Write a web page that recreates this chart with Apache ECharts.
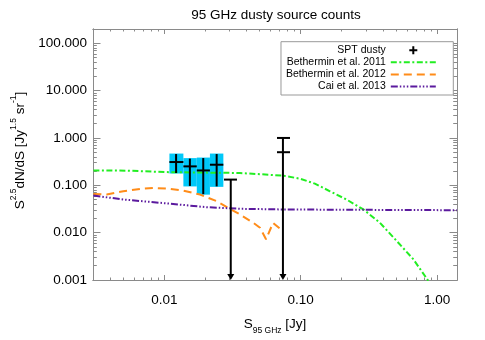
<!DOCTYPE html>
<html><head><meta charset="utf-8">
<script src="https://cdn.jsdelivr.net/npm/echarts@6/dist/echarts.min.js"></script>
<style>html,body{margin:0;padding:0;background:#fff}#c{width:485px;height:340px}</style>
</head><body><div id="c"></div>
<script>
const FONT = '"Liberation Sans", Arial, Helvetica, sans-serif';
const AX = '#8a8a8a';
const TICKC = '#8a8a8a';
const CYAN = '#00c8f8';
const GREEN = '#22ee22';
const ORANGE = '#ff8c19';
const PURPLE = '#5b1a9e';

// axis ranges and ticks
const xMin = 0.003, xMax = 1.4;
const yMin = 0.001, yMax = 200;
const xMajorTicks = [0.01, 0.1, 1];
const yMajorTicks = [0.001, 0.01, 0.1, 1, 10, 100];
const minorMult = [2, 3, 4, 5, 6, 7, 8, 9];
function minorTicks(majors, lo, hi) {
  const out = [];
  [majors[0] / 10].concat(majors).forEach(m => minorMult.forEach(k => {
    const v = +(m * k).toPrecision(3);
    if (v > lo && v < hi) out.push(v);
  }));
  return out;
}
const xMinorTicks = minorTicks(xMajorTicks, xMin, xMax);
const yMinorTicks = minorTicks(yMajorTicks, yMin, yMax);

// SPT dusty measured points
const sptS     = [0.0122, 0.0154, 0.0193, 0.0242];
const sptVal   = [0.310, 0.251, 0.206, 0.272];
const sptLo    = [0.182, 0.097, 0.065, 0.095];
const sptHi    = [0.457, 0.366, 0.376, 0.457];
const sptBinLo = [0.0109, 0.0138, 0.0173, 0.0216];
const sptBinHi = [0.0138, 0.0173, 0.0216, 0.0271];

// SPT dusty upper limits (arrow to bottom)
const limS     = [0.0307, 0.0741];
const limVal   = [null, 0.50];
const limHi    = [0.132, 1.00];
const limBinLo = [0.0274, 0.0670];
const limBinHi = [0.0341, 0.0835];

// Bethermin et al. 2011
const b11S = [0.00302, 0.0053, 0.0110, 0.0359, 0.0741, 0.0989, 0.127, 0.164, 0.217, 0.288, 0.381, 0.506, 0.669, 0.839, 0.90];
const b11V = [0.2065, 0.204, 0.189, 0.182, 0.160, 0.138, 0.1085, 0.0748, 0.050, 0.031, 0.0162, 0.00667, 0.00275, 0.00108, 0.00080];
// Bethermin et al. 2012
const b12S = [0.00302, 0.00378, 0.0050, 0.00664, 0.0083, 0.01041, 0.01378, 0.01827, 0.0242, 0.0294, 0.0359, 0.0449, 0.0503, 0.0557, 0.0627, 0.0705];
const b12V = [0.0659, 0.0638, 0.0748, 0.0840, 0.0881, 0.0853, 0.0774, 0.0638, 0.0462, 0.0335, 0.0242, 0.0162, 0.0127, 0.00723, 0.0161, 0.0121];
// Cai et al. 2013
const caiS = [0.00302, 0.0050, 0.00664, 0.0116, 0.0204, 0.0359, 0.0741, 0.23, 1.40];
const caiV = [0.0608, 0.0501, 0.0466, 0.0403, 0.0345, 0.0319, 0.0309, 0.0304, 0.0298];

const titleText = '95 GHz dusty source counts';
const names = ['SPT dusty', 'Bethermin et al. 2011', 'Bethermin et al. 2012', 'Cai et al. 2013'];

function xAx(position, ticks, len, withLabels) {
  const a = {
    type: 'log', min: xMin, max: xMax, position: position, gridIndex: 0,
    axisLine: { show: true, onZero: false, lineStyle: { color: AX, width: 1 } },
    axisTick: { show: true, inside: true, length: len, customValues: ticks, lineStyle: { color: TICKC, width: 1 } },
    axisLabel: { show: false },
    splitLine: { show: false }, minorTick: { show: false }, minorSplitLine: { show: false }
  };
  if (withLabels) {
    a.axisLabel = { show: true, customValues: xMajorTicks, formatter: v => v.toFixed(2), margin: 13,
      color: '#000', fontFamily: FONT, fontSize: 13.5 };
    a.name = '{m|S}{s|95 GHz}{m| [Jy]}';
    a.nameLocation = 'middle';
    a.nameGap = 37;
    a.nameTextStyle = { rich: {
      m: { fontFamily: FONT, fontSize: 13.5, color: '#000', lineHeight: 18, verticalAlign: 'top' },
      s: { fontFamily: FONT, fontSize: 8.5, color: '#000', lineHeight: 10, verticalAlign: 'bottom' } } };
  }
  return a;
}
function yAx(position, ticks, len, withLabels) {
  const a = {
    type: 'log', min: yMin, max: yMax, position: position, gridIndex: 0,
    axisLine: { show: true, onZero: false, lineStyle: { color: AX, width: 1 } },
    axisTick: { show: true, inside: true, length: len, customValues: ticks, lineStyle: { color: TICKC, width: 1 } },
    axisLabel: { show: false },
    splitLine: { show: false }, minorTick: { show: false }, minorSplitLine: { show: false }
  };
  if (withLabels) {
    a.axisLabel = { show: true, customValues: yMajorTicks, formatter: v => v.toFixed(3), margin: 6,
      color: '#000', fontFamily: FONT, fontSize: 13.5, padding: [5, 0, 0, 0] };
    a.name = '{m|S}{s|2.5}{m|dN/dS [Jy}{s|1.5}{m| sr}{s|-1}{m|]}';
    a.nameLocation = 'middle';
    a.nameGap = 62;
    a.nameTextStyle = { padding: [0, 0, 0, 8], rich: {
      m: { fontFamily: FONT, fontSize: 13.5, color: '#000', lineHeight: 18, verticalAlign: 'bottom' },
      s: { fontFamily: FONT, fontSize: 8.5, color: '#000', lineHeight: 10, verticalAlign: 'top' } } };
  }
  return a;
}

const plusIcon = 'path://M3,0H5V3H8V5H5V8H3V5H0V3H3Z';

const option = {
  animation: false,
  backgroundColor: '#fff',
  title: { text: titleText, left: 276, textAlign: 'center', top: 8, padding: 0,
    textStyle: { fontFamily: FONT, fontSize: 13.5, fontWeight: 'normal', color: '#000' } },
  grid: { left: 93, top: 29, width: 364, height: 251, containLabel: false, outerBoundsMode: 'none' },
  legend: {
    right: 31.7, top: 41.7, orient: 'vertical', align: 'right', selectedMode: false,
    padding: [3, 16.5, 3, 5], itemGap: 1.1, itemWidth: 45, itemHeight: 8,
    backgroundColor: '#fff', borderColor: '#999', borderWidth: 1,
    textStyle: { fontFamily: FONT, fontSize: 10.5, color: '#000' },
    data: [
      { name: names[0], icon: plusIcon },
      { name: names[1], itemStyle: { opacity: 0 } },
      { name: names[2], itemStyle: { opacity: 0 } },
      { name: names[3], itemStyle: { opacity: 0 } }
    ]
  },
  xAxis: [
    xAx('bottom', xMajorTicks, 5, true),
    xAx('bottom', xMinorTicks, 2.5, false),
    xAx('top', xMajorTicks, 5, false),
    xAx('top', xMinorTicks, 2.5, false)
  ],
  yAxis: [
    yAx('left', yMajorTicks, 7.5, true),
    yAx('left', yMinorTicks, 3.8, false),
    yAx('right', yMajorTicks, 7.5, false),
    yAx('right', yMinorTicks, 3.8, false)
  ],
  series: [
    {
      type: 'custom', name: 'SPT boxes', z: 1, silent: true, clip: true,
      data: sptS.map((s, i) => [sptBinLo[i], sptBinHi[i], sptLo[i], sptHi[i]]),
      encode: { x: [0, 1], y: [2, 3] },
      renderItem: (p, api) => {
        const a = api.coord([api.value(0), api.value(3)]);
        const b = api.coord([api.value(1), api.value(2)]);
        return { type: 'rect', shape: { x: a[0], y: a[1] - 0.5, width: b[0] - a[0], height: b[1] - a[1] + 1 },
          style: { fill: CYAN } };
      }
    },
    {
      type: 'line', name: names[1], z: 2, symbol: 'none', data: b11S.map((s, i) => [s, b11V[i]]),
      lineStyle: { color: GREEN, width: 2, type: [6, 2.5, 2, 2.5] }, itemStyle: { color: GREEN }
    },
    {
      type: 'line', name: names[2], z: 2, symbol: 'none', data: b12S.map((s, i) => [s, b12V[i]]),
      lineStyle: { color: ORANGE, width: 2, type: [8, 5] }, itemStyle: { color: ORANGE }
    },
    {
      type: 'line', name: names[3], z: 2, symbol: 'none', data: caiS.map((s, i) => [s, caiV[i]]),
      lineStyle: { color: PURPLE, width: 2, type: [7, 2, 1.5, 2, 1.5, 2, 1.5, 2] }, itemStyle: { color: PURPLE }
    },
    {
      type: 'custom', name: names[0], z: 3, silent: true, itemStyle: { color: '#000' },
      data: sptS.map((s, i) => [s, sptVal[i], sptLo[i], sptHi[i], sptBinLo[i], sptBinHi[i]]),
      encode: { x: 0, y: 1 },
      renderItem: (p, api) => {
        const lo = api.coord([api.value(0), api.value(2)]);
        const hi = api.coord([api.value(0), api.value(3)]);
        const bl = api.coord([api.value(4), api.value(1)]);
        const bh = api.coord([api.value(5), api.value(1)]);
        const st = { stroke: '#000', lineWidth: 2 };
        return { type: 'group', children: [
          { type: 'line', shape: { x1: lo[0], y1: lo[1], x2: hi[0], y2: hi[1] }, style: st },
          { type: 'line', shape: { x1: bl[0], y1: bl[1], x2: bh[0], y2: bh[1] }, style: st }
        ] };
      }
    },
    {
      type: 'custom', name: 'SPT limits', z: 3, silent: true, itemStyle: { color: '#000' },
      data: limS.map((s, i) => [s, limHi[i], limBinLo[i], limBinHi[i], limVal[i] == null ? '-' : limVal[i], yMin]),
      encode: { x: 0, y: 1 },
      renderItem: (p, api) => {
        const top = api.coord([api.value(0), api.value(1)]);
        const bot = api.coord([api.value(0), api.value(5)]);
        const cl = api.coord([api.value(2), api.value(1)]);
        const ch = api.coord([api.value(3), api.value(1)]);
        const st = { stroke: '#000', lineWidth: 2 };
        const kids = [
          { type: 'line', shape: { x1: top[0], y1: top[1], x2: bot[0], y2: bot[1] - 4 }, style: st },
          { type: 'line', shape: { x1: cl[0], y1: cl[1], x2: ch[0], y2: ch[1] }, style: st },
          { type: 'polygon', shape: { points: [[bot[0] - 3.5, bot[1] - 6], [bot[0] + 3.5, bot[1] - 6], [bot[0], bot[1]]] },
            style: { fill: '#000' } }
        ];
        const v = api.value(4);
        if (!isNaN(v)) {
          const ml = api.coord([api.value(2), v]);
          const mh = api.coord([api.value(3), v]);
          kids.push({ type: 'line', shape: { x1: ml[0], y1: ml[1], x2: mh[0], y2: mh[1] }, style: st });
        }
        return { type: 'group', children: kids };
      }
    }
  ]
};

const chart = echarts.init(document.getElementById('c'), null, { renderer: 'canvas' });
chart.setOption(option);
</script>
</body></html>
